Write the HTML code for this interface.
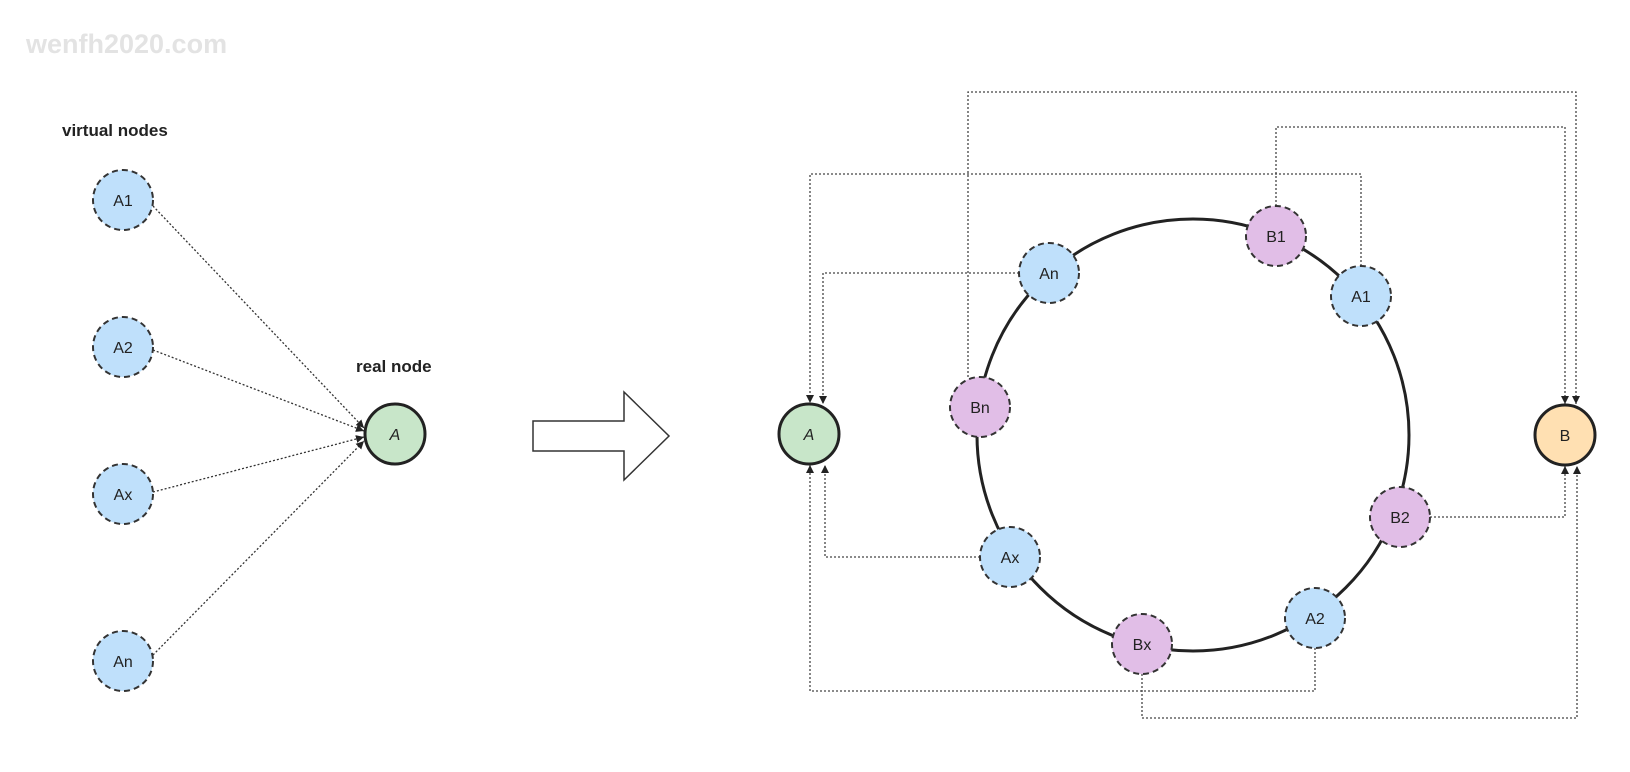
<!DOCTYPE html>
<html><head><meta charset="utf-8"><style>
html,body{margin:0;padding:0;background:#fff;}
svg{display:block;}
text{font-family:"Liberation Sans",sans-serif;}
</style></head><body>
<svg width="1630" height="772" viewBox="0 0 1630 772" xmlns="http://www.w3.org/2000/svg">
<defs>
<marker id="ah" viewBox="0 0 10 10" refX="10" refY="5" markerWidth="8" markerHeight="10" markerUnits="userSpaceOnUse" orient="auto">
<path d="M0,0 L10,5 L0,10 z" fill="#222"/>
</marker>
</defs>
<rect width="1630" height="772" fill="#fff"/>
<text x="26" y="53" font-size="27" font-weight="bold" fill="#e3e3e3" font-family="Liberation Mono, monospace">wenfh2020.com</text>
<text x="62" y="136" font-size="17" font-weight="bold" fill="#222">virtual nodes</text>
<text x="356" y="372" font-size="17" font-weight="bold" fill="#222">real node</text>

<g fill="none" stroke="#333" stroke-width="1.3" stroke-dasharray="2,2">
<line x1="153" y1="206" x2="364" y2="428" marker-end="url(#ah)"/>
<line x1="153" y1="350" x2="364" y2="431" marker-end="url(#ah)"/>
<line x1="153" y1="492" x2="364" y2="437" marker-end="url(#ah)"/>
<line x1="153" y1="655" x2="364" y2="441" marker-end="url(#ah)"/>
</g>

<g stroke="#333" stroke-width="2" stroke-dasharray="6,4" fill="#bfe0fb">
<circle cx="123" cy="200" r="30"/><circle cx="123" cy="347" r="30"/>
<circle cx="123" cy="494" r="30"/><circle cx="123" cy="661" r="30"/>
</g>
<g font-size="16" fill="#222" text-anchor="middle">
<text x="123" y="206">A1</text><text x="123" y="353">A2</text>
<text x="123" y="500">Ax</text><text x="123" y="667">An</text>
</g>
<circle cx="395" cy="434" r="30" fill="#c8e6c9" stroke="#222" stroke-width="3"/>
<text x="395" y="440" font-size="16" font-style="italic" text-anchor="middle" fill="#222">A</text>

<path d="M533,421 L624,421 L624,392 L669,436 L624,480 L624,451 L533,451 Z" fill="#fff" stroke="#333" stroke-width="1.5"/>

<circle cx="1193" cy="435" r="216" fill="none" stroke="#222" stroke-width="3"/>

<g fill="none" stroke="#444" stroke-width="1.3" stroke-dasharray="2,2">
<polyline points="968,377 968,92 1576,92 1576,404" marker-end="url(#ah)"/>
<polyline points="1276,206 1276,127 1565,127 1565,404" marker-end="url(#ah)"/>
<polyline points="1361,266 1361,174 810,174 810,403" marker-end="url(#ah)"/>
<polyline points="1019,273 823,273 823,404" marker-end="url(#ah)"/>
<polyline points="980,557 825,557 825,465" marker-end="url(#ah)"/>
<polyline points="1315,648 1315,691 810,691 810,465" marker-end="url(#ah)"/>
<polyline points="1142,674 1142,718 1577,718 1577,466" marker-end="url(#ah)"/>
<polyline points="1430,517 1565,517 1565,466" marker-end="url(#ah)"/>
</g>

<g stroke="#333" stroke-width="2" stroke-dasharray="6,4">
<circle cx="1049" cy="273" r="30" fill="#bfe0fb"/>
<circle cx="1361" cy="296" r="30" fill="#bfe0fb"/>
<circle cx="1010" cy="557" r="30" fill="#bfe0fb"/>
<circle cx="1315" cy="618" r="30" fill="#bfe0fb"/>
<circle cx="1276" cy="236" r="30" fill="#e1bee7"/>
<circle cx="980" cy="407" r="30" fill="#e1bee7"/>
<circle cx="1400" cy="517" r="30" fill="#e1bee7"/>
<circle cx="1142" cy="644" r="30" fill="#e1bee7"/>
</g>
<g font-size="16" fill="#222" text-anchor="middle">
<text x="1049" y="279">An</text><text x="1361" y="302">A1</text>
<text x="1010" y="563">Ax</text><text x="1315" y="624">A2</text>
<text x="1276" y="242">B1</text><text x="980" y="413">Bn</text>
<text x="1400" y="523">B2</text><text x="1142" y="650">Bx</text>
</g>

<circle cx="809" cy="434" r="30" fill="#c8e6c9" stroke="#222" stroke-width="3"/>
<text x="809" y="440" font-size="16" font-style="italic" text-anchor="middle" fill="#222">A</text>
<circle cx="1565" cy="435" r="30" fill="#ffe0b2" stroke="#222" stroke-width="3"/>
<text x="1565" y="441" font-size="16" text-anchor="middle" fill="#222">B</text>
</svg>
</body></html>
